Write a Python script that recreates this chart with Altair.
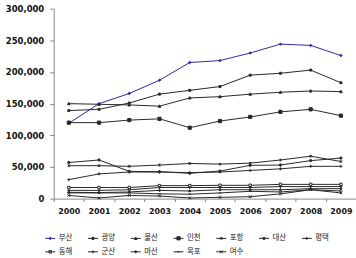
import altair as alt
import pandas as pd

# Cargo throughput by port, 2000-2009 (thousand tons)
years = [str(y) for y in range(2000, 2010)]
ports = ["부산", "광양", "울산", "인천", "포항", "대산", "평택",
         "동해", "군산", "마산", "목포", "여수"]

busan = [119000, 150000, 166000, 187000, 215000, 218000, 230000, 244000, 242000, 226000]
gwangyang = [139000, 141000, 151000, 165000, 171000, 177000, 195000, 198000, 203000, 183000]
ulsan = [150000, 149000, 148000, 146000, 159000, 161000, 165000, 168000, 170000, 169000]
incheon = [120000, 120000, 124000, 126000, 112000, 122500, 129000, 137000, 141000, 131000]
pohang = [52000, 52000, 51000, 53000, 55500, 54500, 56000, 61000, 67000, 58600]
daesan = [57000, 61000, 43000, 42500, 40000, 43500, 52500, 53000, 60000, 64000]
pyeongtaek = [30000, 39000, 42000, 42000, 41000, 42000, 44500, 47000, 51000, 51000]
donghae = [17500, 17500, 17500, 20500, 20500, 21000, 21000, 22500, 22500, 22500]
gunsan = [13000, 13000, 14000, 17500, 17500, 17500, 17500, 19000, 19000, 19000]
masan = [10000, 9500, 10500, 13000, 12000, 14000, 14000, 14000, 15700, 15700]
mokpo = [9000, 9000, 9000, 7500, 7000, 9000, 11500, 10500, 14000, 12000]
yeosu = [5000, 1000, 5000, 4000, 1000, 2000, 3000, 7500, 14000, 9000]

series_values = [busan, gwangyang, ulsan, incheon, pohang, daesan, pyeongtaek,
                 donghae, gunsan, masan, mokpo, yeosu]

rows = []
for name, vals in zip(ports, series_values):
    for yr, v in zip(years, vals):
        rows.append({"year": yr, "port": name, "value": v})
df = pd.DataFrame(rows)


# marker outlines in the unit square [-1, 1]
def sq(h):
    return f"M{-h},{-h}H{h}V{h}H{-h}Z"


def diamond(h):
    return f"M0,{-h}L{h},0L0,{h}L{-h},0Z"


def tri(h):
    return f"M0,{-h}L{h},{h * 0.8}L{-h},{h * 0.8}Z"


def circ(r):
    return f"M{-r},0A{r},{r} 0 1,0 {r},0A{r},{r} 0 1,0 {-r},0Z"


def plus(h):
    return f"M{-h},0H{h}M0,{-h}V{h}"


def cross(h):
    return f"M{-h},{-h}L{h},{h}M{-h},{h}L{h},{-h}"


def star(h):
    return cross(h * 0.85) + f"M0,{-h}V{h}"


def dash(h):
    return f"M{-h},0H{h}"


markers = [diamond(0.25), sq(0.2), tri(0.27), sq(0.32), star(0.26), circ(0.24),
           plus(0.3), sq(0.25), plus(0.28), circ(0.2), dash(0.32), cross(0.27)]
legend_shapes = ["M-1,0H1" + m for m in markers]

ink = "#282828"
colors = ["#2b2b9e"] + [ink] * 11
fills = ["#2b2b9e", ink, ink, ink, "transparent", ink, "transparent",
         "#ffffff", "transparent", ink, "transparent", "transparent"]

x_enc = alt.X(
    "year:O",
    scale=alt.Scale(type="band", paddingInner=0, paddingOuter=0),
    axis=alt.Axis(
        title=None, tickBand="extent", labelAngle=0, tickSize=3,
        labelFont="DejaVu Sans", labelFontWeight="bold", labelFontSize=8,
        labelColor="#111", labelPadding=6, domainColor="#888", tickColor="#888",
    ),
)
y_enc = alt.Y(
    "value:Q",
    scale=alt.Scale(domain=[0, 300000], nice=False),
    axis=alt.Axis(
        title=None, values=list(range(0, 300001, 50000)), format=",.0f",
        grid=False, tickSize=4, labelFont="DejaVu Sans", labelFontWeight="bold",
        labelFontSize=8.5, labelColor="#111", labelPadding=6,
        domainColor="#888", tickColor="#888",
    ),
)

color_scale = alt.Scale(domain=ports, range=colors)

lines = alt.Chart(df).mark_line(strokeWidth=1).encode(
    x=x_enc, y=y_enc,
    color=alt.Color("port:N", scale=color_scale, legend=None),
    order=alt.value(0),
)

points = alt.Chart(df).mark_point(filled=False, strokeWidth=1, opacity=1, size=100).encode(
    x=x_enc, y=y_enc,
    stroke=alt.Stroke("port:N", scale=color_scale, legend=None),
    fill=alt.Fill("port:N", scale=alt.Scale(domain=ports, range=fills), legend=None),
    shape=alt.Shape("port:N", scale=alt.Scale(domain=ports, range=markers), legend=None),
)

key = alt.Chart(df).transform_filter("false").mark_point(
    filled=False, strokeWidth=1, opacity=1, size=100
).encode(
    x=x_enc, y=y_enc,
    stroke=alt.Stroke("port:N", scale=color_scale, legend=alt.Legend(title=None)),
    fill=alt.Fill("port:N", scale=alt.Scale(domain=ports, range=fills), legend=alt.Legend(title=None)),
    shape=alt.Shape("port:N", scale=alt.Scale(domain=ports, range=legend_shapes),
                    legend=alt.Legend(title=None)),
)

chart = alt.layer(lines, points, key).resolve_scale(
    color="independent", stroke="independent", fill="independent", shape="independent"
).properties(
    width=304, height=191,
    autosize="none",
    padding={"left": 54, "top": 8, "right": 0, "bottom": 59},
).configure_view(stroke=None).configure_legend(
    orient="none", legendX=-9, legendY=225, direction="horizontal", columns=7,
    symbolSize=100, symbolStrokeWidth=1, labelFont="Noto Sans CJK KR",
    labelFontSize=7.5, labelColor="#222", labelOffset=3, columnPadding=13,
    rowPadding=4, padding=0,
)

chart.save("out.html", embed_options={"renderer": "svg", "actions": False})
